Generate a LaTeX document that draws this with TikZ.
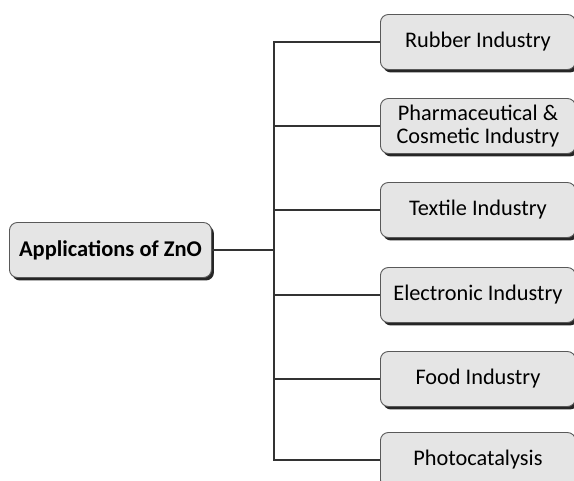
\documentclass[tikz,border=0pt]{standalone}
\usepackage{fontspec}
\setmainfont{Carlito}
\usetikzlibrary{shadows}
\begin{document}
\begin{tikzpicture}[x=1pt,y=-1pt,
  box/.style={draw=black!65, line width=0.9pt, fill=black!10, rounded corners=8pt,
    minimum height=55pt, align=center, inner sep=0pt,
    drop shadow={shadow xshift=2.5pt, shadow yshift=-3pt, fill=black!85, opacity=1}},
  leaf/.style={box, anchor=west, minimum width=195pt, font=\fontsize{22.3}{23.5}\selectfont},
  conn/.style={draw=black!80, line width=1.1pt}]
\useasboundingbox (0,0) rectangle (574,481);
\node[box, anchor=west, minimum width=202pt, font=\bfseries\fontsize{22.5}{24}\selectfont] (root) at (9,250) {Applications of ZnO};
\node[leaf] (b1) at (380,42) {Rubber Industry};
\node[leaf] (b2) at (380,126) {Pharmaceutical \&\\Cosmetic Industry};
\node[leaf] (b3) at (380,210) {Textile Industry};
\node[leaf] (b4) at (380,295) {Electronic Industry};
\node[leaf] (b5) at (380,379) {Food Industry};
\node[leaf] (b6) at (380,460) {Photocatalysis};
\coordinate (j) at (274,250);
\draw[conn] (root.east) -- (j);
\foreach \i in {1,...,6} {\draw[conn] (j) |- (b\i.west);}
\end{tikzpicture}
\end{document}
